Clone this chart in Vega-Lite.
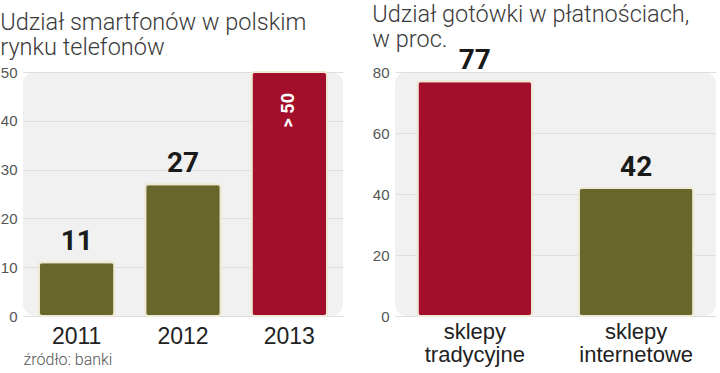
{
  "$schema": "https://vega.github.io/schema/vega-lite/v6.json",
  "padding": {"left": 0, "top": 3, "right": 0, "bottom": 0},
  "background": "white",
  "spacing": 29,
  "config": {
    "view": {"fill": "#f1f1f1", "stroke": null, "cornerRadius": 12},
    "font": "Liberation Sans",
    "title": {"font": "Roboto", "fontSize": 23.5, "fontWeight": 300, "color": "#3a3a3a", "anchor": "start", "lineHeight": 24.5},
    "axisY": {"labelFontSize": 15, "labelColor": "#555555", "ticks": false, "domain": false, "gridColor": "#dedede", "labelPadding": 6, "title": null},
    "axisX": {"labelFontSize": 23, "labelColor": "#222222", "ticks": false, "domain": false, "grid": false, "labelAngle": 0, "labelPadding": 9}
  },
  "hconcat": [
    {
      "width": 320,
      "height": 244,
      "title": {"text": ["Udział smartfonów w polskim", "rynku telefonów"], "offset": 6},
      "data": {"values": [
        {"rok": "2011", "udzial": 11, "etykieta": "11"},
        {"rok": "2012", "udzial": 27, "etykieta": "27"},
        {"rok": "2013", "udzial": 50, "etykieta": "> 50"}
      ]},
      "encoding": {
        "x": {"field": "rok", "type": "ordinal", "scale": {"paddingInner": 0.29, "paddingOuter": 0.15},
              "axis": {"title": "źródło: banki", "titleAnchor": "start", "titleAlign": "left", "titleFontSize": 16, "titleFontWeight": 300, "titleColor": "#555555", "titlePadding": 3, "titleFont": "Roboto"}},
        "y": {"field": "udzial", "type": "quantitative", "scale": {"domain": [0, 50], "nice": false}, "axis": {"values": [0, 10, 20, 30, 40, 50]}}
      },
      "layer": [
        {
          "mark": {"type": "bar", "cornerRadius": 3, "stroke": "#eee8d4", "strokeWidth": 2},
          "encoding": {
            "color": {"condition": {"test": "datum.rok === '2013'", "value": "#a30f2a"}, "value": "#67662b"}
          }
        },
        {
          "transform": [{"filter": "datum.rok !== '2013'"}],
          "mark": {"type": "text", "baseline": "bottom", "dy": -6, "font": "Roboto", "fontWeight": "bold", "fontSize": 28, "color": "#1a1a1a"},
          "encoding": {"text": {"field": "etykieta"}}
        },
        {
          "transform": [{"filter": "datum.rok === '2013'"}],
          "mark": {"type": "text", "angle": 270, "align": "right", "baseline": "middle", "dx": -21, "font": "Roboto", "fontWeight": "bold", "fontSize": 18, "color": "white"},
          "encoding": {"text": {"field": "etykieta"}}
        }
      ]
    },
    {
      "width": 321,
      "height": 244,
      "title": {"text": ["Udział gotówki w płatnościach,", "w proc."], "offset": -4},
      "data": {"values": [
        {"sklepy": "sklepy tradycyjne", "udzial": 77},
        {"sklepy": "sklepy internetowe", "udzial": 42}
      ]},
      "encoding": {
        "x": {"field": "sklepy", "type": "nominal", "sort": null, "scale": {"paddingInner": 0.29, "paddingOuter": 0.14},
              "axis": {"title": null, "labelExpr": "split(datum.label, ' ')", "labelFontSize": 22, "labelLineHeight": 23, "labelPadding": 5}},
        "y": {"field": "udzial", "type": "quantitative", "scale": {"domain": [0, 80], "nice": false}, "axis": {"values": [0, 20, 40, 60, 80]}}
      },
      "layer": [
        {
          "mark": {"type": "bar", "cornerRadius": 3, "stroke": "#eee8d4", "strokeWidth": 2},
          "encoding": {
            "color": {"condition": {"test": "datum.sklepy === 'sklepy tradycyjne'", "value": "#a30f2a"}, "value": "#67662b"}
          }
        },
        {
          "mark": {"type": "text", "baseline": "bottom", "dy": -6, "font": "Roboto", "fontWeight": "bold", "fontSize": 28, "color": "#1a1a1a"},
          "encoding": {"text": {"field": "udzial", "type": "quantitative"}}
        }
      ]
    }
  ]
}
